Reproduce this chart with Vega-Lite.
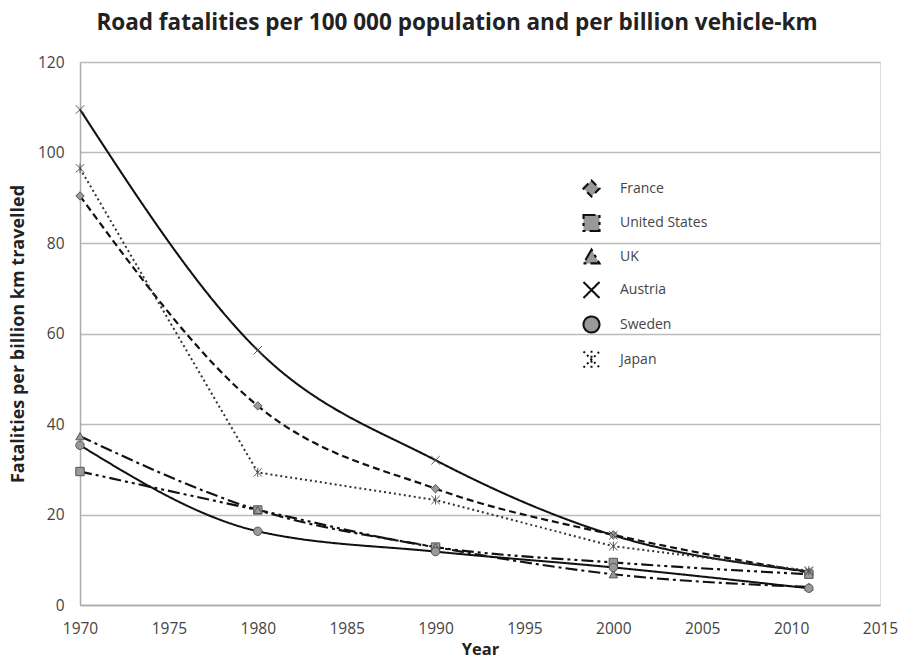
{
  "$schema": "https://vega.github.io/schema/vega-lite/v6.json",
  "width": 800,
  "height": 543,
  "autosize": {"type": "none"},
  "padding": {"left": 80, "top": 62, "right": 20, "bottom": 64},
  "background": "white",
  "title": {
    "text": "Road fatalities per 100 000 population and per billion vehicle-km",
    "font": "Open Sans", "fontSize": 22.5, "fontWeight": "bold", "color": "#222",
    "anchor": "middle", "dx": -23, "offset": 21
  },
  "data": {
    "values": [
      {"country": "France", "year": 1970, "value": 90.4},
      {"country": "France", "year": 1980, "value": 44.0},
      {"country": "France", "year": 1990, "value": 25.7},
      {"country": "France", "year": 2000, "value": 15.5},
      {"country": "France", "year": 2011, "value": 7.2},
      {"country": "United States", "year": 1970, "value": 29.5},
      {"country": "United States", "year": 1980, "value": 21.0},
      {"country": "United States", "year": 1990, "value": 12.8},
      {"country": "United States", "year": 2000, "value": 9.4},
      {"country": "United States", "year": 2011, "value": 6.8},
      {"country": "UK", "year": 1970, "value": 37.3},
      {"country": "UK", "year": 1980, "value": 21.0},
      {"country": "UK", "year": 1990, "value": 12.8},
      {"country": "UK", "year": 2000, "value": 6.8},
      {"country": "UK", "year": 2011, "value": 4.0},
      {"country": "Austria", "year": 1970, "value": 109.5},
      {"country": "Austria", "year": 1980, "value": 56.3},
      {"country": "Austria", "year": 1990, "value": 32.0},
      {"country": "Austria", "year": 2000, "value": 15.4},
      {"country": "Austria", "year": 2011, "value": 7.4},
      {"country": "Sweden", "year": 1970, "value": 35.3},
      {"country": "Sweden", "year": 1980, "value": 16.3},
      {"country": "Sweden", "year": 1990, "value": 11.8},
      {"country": "Sweden", "year": 2000, "value": 8.3},
      {"country": "Sweden", "year": 2011, "value": 3.7},
      {"country": "Japan", "year": 1970, "value": 96.5},
      {"country": "Japan", "year": 1980, "value": 29.3},
      {"country": "Japan", "year": 1990, "value": 23.2},
      {"country": "Japan", "year": 2000, "value": 13.0},
      {"country": "Japan", "year": 2011, "value": 7.6}
    ]
  },
  "encoding": {
    "x": {
      "field": "year", "type": "quantitative",
      "scale": {"domain": [1970, 2015], "nice": false, "zero": false},
      "axis": {
        "values": [1970, 1975, 1980, 1985, 1990, 1995, 2000, 2005, 2010, 2015],
        "format": "d", "grid": false, "ticks": false, "labelFlush": false,
        "labelFont": "Open Sans", "labelFontSize": 15.5, "labelColor": "#444", "labelPadding": 16,
        "domainColor": "#aaaaaa", "domainWidth": 1.5,
        "title": "Year", "titleFont": "Open Sans", "titleFontSize": 16.5, "titleFontWeight": "bold", "titleColor": "#222", "titlePadding": 5
      }
    },
    "y": {
      "field": "value", "type": "quantitative",
      "scale": {"domain": [0, 120], "nice": false},
      "axis": {
        "values": [0, 20, 40, 60, 80, 100, 120],
        "grid": true, "gridColor": "#bbbbbb", "gridWidth": 1.5, "ticks": false, "labelFlush": false,
        "labelFont": "Open Sans", "labelFontSize": 15.5, "labelColor": "#444", "labelPadding": 16,
        "domainColor": "#aaaaaa", "domainWidth": 1.5,
        "title": "Fatalities per billion km travelled", "titleFont": "Open Sans", "titleFontSize": 18, "titleFontWeight": "bold", "titleColor": "#222", "titlePadding": 10
      }
    }
  },
  "layer": [
    {
      "transform": [{"filter": "datum.country !== 'Japan'"}],
      "mark": {"type": "line", "interpolate": "monotone", "color": "#111"},
      "encoding": {
        "strokeDash": {
          "field": "country", "type": "nominal",
          "scale": {
            "domain": ["France", "United States", "UK", "Austria", "Sweden", "Japan"],
            "range": [[7, 4], [12, 4, 3, 4, 3, 4], [12, 4, 3, 4], [1, 0], [1, 0], [2, 3]]
          }
        },
        "strokeWidth": {
          "field": "country", "type": "nominal",
          "scale": {
            "domain": ["France", "United States", "UK", "Austria", "Sweden", "Japan"],
            "range": [2.2, 2, 2, 3.4, 1.8, 1.8]
          }
        },
        "detail": {"field": "country"}
      }
    },
    {
      "transform": [{"filter": "datum.country === 'Japan'"}],
      "mark": {"type": "line", "interpolate": "linear", "color": "#333"},
      "encoding": {
        "strokeDash": {"field": "country", "type": "nominal"},
        "strokeWidth": {"field": "country", "type": "nominal"},
        "detail": {"field": "country"}
      }
    },
    {
      "mark": {"type": "point", "filled": true, "fill": "#999999", "stroke": "#555555", "strokeWidth": 1, "size": 70, "opacity": 1},
      "encoding": {
        "shape": {
          "field": "country", "type": "nominal",
          "scale": {
            "domain": ["France", "United States", "UK", "Austria", "Sweden", "Japan"],
            "range": ["diamond", "square", "triangle-up", "M-1,-1L1,1M-1,1L1,-1", "circle", "M-1,-1L1,1M-1,1L1,-1M0,-1.1L0,1.1"]
          },
          "legend": {
            "orient": "none", "legendX": 502, "legendY": 117, "title": null, "padding": 0,
            "symbolSize": 256, "rowPadding": 9.5, "labelOffset": 19,
            "labelFont": "Open Sans", "labelFontSize": 14, "labelColor": "#444",
            "symbolFillColor": "#999999", "symbolStrokeColor": "#222"
          }
        },
        "detail": {"field": "country"}
      }
    }
  ]
}
